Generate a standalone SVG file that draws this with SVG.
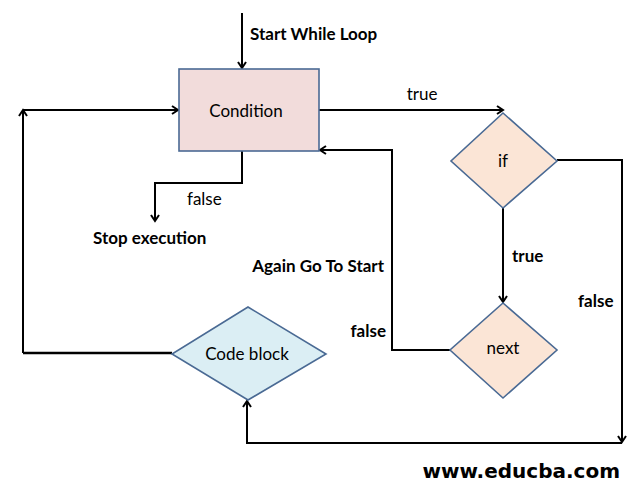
<svg xmlns="http://www.w3.org/2000/svg" width="642" height="498" viewBox="0 0 642 498">
<style>
.ln{fill:none;stroke:#000;stroke-width:2;stroke-linejoin:miter}
.sh{stroke:#4a6a94;stroke-width:1.6}
.t{font-family:Lato,"Open Sans","Liberation Sans",sans-serif;font-size:17px;fill:#000}
.b{font-weight:bold}
.c{text-anchor:middle}
</style>
<defs>
<marker id="ar" markerWidth="10" markerHeight="10" refX="8" refY="5" orient="auto" markerUnits="userSpaceOnUse">
<polyline points="2,1 8,5 2,9" fill="none" stroke="#000" stroke-width="2"/>
</marker>
</defs>
<rect width="642" height="498" fill="#fff"/>
<g id="connectors">
<line class="ln" x1="242" y1="13" x2="242" y2="68" marker-end="url(#ar)"/>
<polyline class="ln" points="23,353 23,110" marker-end="url(#ar)"/>
<line class="ln" x1="23" y1="110" x2="178" y2="110" marker-end="url(#ar)"/>
<polyline class="ln" points="242,151 242,183 155,183 155,221" marker-end="url(#ar)"/>
<line class="ln" x1="319" y1="110" x2="503" y2="110" marker-end="url(#ar)"/>
<polyline class="ln" points="557,160 622,160 622,442" marker-end="url(#ar)"/>
<polyline class="ln" points="622,443 247,443 247,401" marker-end="url(#ar)"/>
<line class="ln" x1="503" y1="208" x2="503" y2="302" marker-end="url(#ar)"/>
<polyline class="ln" points="450,350 392,350 392,150 320,150" marker-end="url(#ar)"/>
<polyline class="ln" points="172,353 23,353" style="stroke-width:2.6"/>
</g>
<g id="condition">
<rect class="sh" x="179" y="69" width="140" height="82" fill="#f2dcdb"/>
<text class="t c" x="246" y="117">Condition</text>
</g>
<g id="if">
<polygon class="sh" points="503,113 557,161 503,208 451,161" fill="#fbe5d6"/>
<text class="t c" x="503" y="167">if</text>
</g>
<g id="next">
<polygon class="sh" points="503,303 557,350 503,398 450,350" fill="#fbe5d6"/>
<text class="t c" x="503" y="354">next</text>
</g>
<g id="codeblock">
<polygon class="sh" points="248,307 326,354 248,400 172,354" fill="#dbeef4"/>
<text class="t c" x="247" y="360">Code block</text>
</g>
<g id="labels">
<text class="t b" x="250" y="40">Start While Loop</text>
<text class="t c" x="422" y="100">true</text>
<text class="t" x="187" y="205">false</text>
<text class="t b" x="93" y="244">Stop execution</text>
<text class="t b" x="512" y="262">true</text>
<text class="t b" x="578" y="307">false</text>
<text class="t b" x="384" y="272" text-anchor="end">Again Go To Start</text>
<text class="t b" x="386" y="337" text-anchor="end">false</text>
<text x="620" y="478" text-anchor="end" style="font-family:'DejaVu Sans',Verdana,sans-serif;font-weight:bold;font-size:20px;fill:#000">www.educba.com</text>
</g>
</svg>
